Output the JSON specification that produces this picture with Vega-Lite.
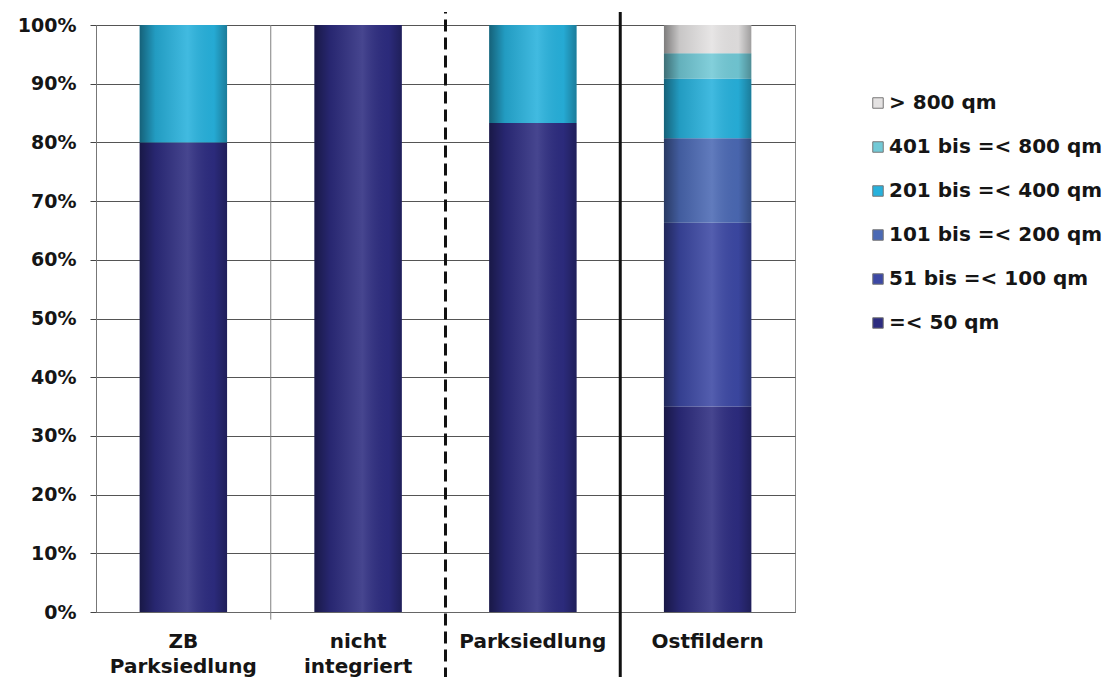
{
  "$schema": "https://vega.github.io/schema/vega-lite/v6.json",
  "width": 699,
  "height": 587,
  "autosize": "none",
  "padding": {"left": 96, "top": 25, "right": 308, "bottom": 65},
  "background": "white",
  "config": {
    "font": "DejaVu Sans",
    "view": {"stroke": "#8a8a8a", "strokeWidth": 1},
    "axis": {
      "labelFont": "DejaVu Sans",
      "labelFontWeight": "bold",
      "labelFontSize": 19,
      "labelColor": "#151515",
      "title": null
    },
    "legend": {
      "labelFont": "DejaVu Sans",
      "labelFontWeight": "bold",
      "labelFontSize": 20,
      "labelColor": "#151515",
      "labelLimit": 400
    }
  },
  "datasets": {
    "anteile": [
      {"gebiet": "ZB Parksiedlung", "klasse": "=< 50 qm", "k": 1, "anteil": 80},
      {"gebiet": "ZB Parksiedlung", "klasse": "201 bis =< 400 qm", "k": 4, "anteil": 20},
      {"gebiet": "nicht integriert", "klasse": "=< 50 qm", "k": 1, "anteil": 100},
      {"gebiet": "Parksiedlung", "klasse": "=< 50 qm", "k": 1, "anteil": 83.3},
      {"gebiet": "Parksiedlung", "klasse": "201 bis =< 400 qm", "k": 4, "anteil": 16.7},
      {"gebiet": "Ostfildern", "klasse": "=< 50 qm", "k": 1, "anteil": 35.0},
      {"gebiet": "Ostfildern", "klasse": "51 bis =< 100 qm", "k": 2, "anteil": 31.3},
      {"gebiet": "Ostfildern", "klasse": "101 bis =< 200 qm", "k": 3, "anteil": 14.4},
      {"gebiet": "Ostfildern", "klasse": "201 bis =< 400 qm", "k": 4, "anteil": 10.2},
      {"gebiet": "Ostfildern", "klasse": "401 bis =< 800 qm", "k": 5, "anteil": 4.3},
      {"gebiet": "Ostfildern", "klasse": "> 800 qm", "k": 6, "anteil": 4.8}
    ]
  },
  "layer": [
    {
      "data": {"name": "anteile"},
      "mark": {"type": "bar", "width": {"band": 0.5}},
      "encoding": {
        "x": {
          "field": "gebiet",
          "type": "nominal",
          "scale": {
            "domain": ["ZB Parksiedlung", "nicht integriert", "Parksiedlung", "Ostfildern"],
            "paddingInner": 0,
            "paddingOuter": 0
          },
          "axis": {
            "labelAngle": 0,
            "labelExpr": "split(datum.label, ' ')",
            "labelFontSize": 20,
            "labelLineHeight": 25,
            "labelPadding": 19,
            "ticks": false,
            "domainColor": "#666666",
            "grid": false
          }
        },
        "y": {
          "field": "anteil",
          "type": "quantitative",
          "stack": "normalize",
          "scale": {"domain": [0, 1], "nice": false},
          "axis": {
            "values": [0, 0.1, 0.2, 0.3, 0.4, 0.5, 0.6, 0.7, 0.8, 0.9, 1],
            "format": ".0%",
            "grid": true,
            "gridColor": "#555555",
            "gridWidth": 1,
            "gridOpacity": 1,
            "tickSize": 6,
            "tickColor": "#444444",
            "domainColor": "#777777",
            "labelPadding": 14
          }
        },
        "color": {
          "field": "klasse",
          "type": "nominal",
          "scale": {
            "domain": ["> 800 qm", "401 bis =< 800 qm", "201 bis =< 400 qm", "101 bis =< 200 qm", "51 bis =< 100 qm", "=< 50 qm"],
            "range": ["#e4e2e2", "#72c9d6", "#27b1dc", "#4b69b4", "#3c48a4", "#2d2c80"]
          },
          "legend": {
            "title": null,
            "orient": "none",
            "legendX": 772,
            "legendY": 68,
            "padding": 0,
            "symbolType": "square",
            "symbolSize": 110,
            "symbolStrokeColor": "#777777",
            "symbolStrokeWidth": 1,
            "rowPadding": 24,
            "labelOffset": 1
          }
        },
        "order": {"field": "k", "type": "quantitative", "sort": "ascending"}
      }
    },
    {
      "data": {"name": "anteile"},
      "mark": {
        "type": "bar",
        "width": {"band": 0.5},
        "fill": {
          "gradient": "linear",
          "x1": 0, "x2": 1, "y1": 0, "y2": 0,
          "stops": [
            {"offset": 0, "color": "rgba(0,0,0,0.45)"},
            {"offset": 0.18, "color": "rgba(0,0,0,0.12)"},
            {"offset": 0.55, "color": "rgba(255,255,255,0.12)"},
            {"offset": 0.85, "color": "rgba(0,0,0,0.04)"},
            {"offset": 1, "color": "rgba(0,0,0,0.3)"}
          ]
        }
      },
      "encoding": {
        "x": {"field": "gebiet", "type": "nominal"},
        "y": {"field": "anteil", "type": "quantitative", "stack": "normalize"},
        "detail": {"field": "klasse"},
        "order": {"field": "k", "type": "quantitative", "sort": "ascending"}
      }
    },
    {
      "data": {"values": [
        {"gebiet": "nicht integriert", "von": -0.013, "bis": 1}
      ]},
      "mark": {"type": "rule", "color": "#808080", "strokeWidth": 1},
      "encoding": {
        "x": {"field": "gebiet", "type": "nominal", "bandPosition": 0},
        "y": {"field": "von", "type": "quantitative"},
        "y2": {"field": "bis"}
      }
    },
    {
      "data": {"values": [
        {"gebiet": "Parksiedlung", "von": -0.115, "bis": 1.022}
      ]},
      "mark": {"type": "rule", "color": "#111111", "strokeWidth": 3, "strokeDash": [12, 6]},
      "encoding": {
        "x": {"field": "gebiet", "type": "nominal", "bandPosition": 0},
        "y": {"field": "von", "type": "quantitative"},
        "y2": {"field": "bis"}
      }
    },
    {
      "data": {"values": [
        {"gebiet": "Ostfildern", "von": -0.115, "bis": 1.022}
      ]},
      "mark": {"type": "rule", "color": "#111111", "strokeWidth": 3},
      "encoding": {
        "x": {"field": "gebiet", "type": "nominal", "bandPosition": 0},
        "y": {"field": "von", "type": "quantitative"},
        "y2": {"field": "bis"}
      }
    }
  ]
}
